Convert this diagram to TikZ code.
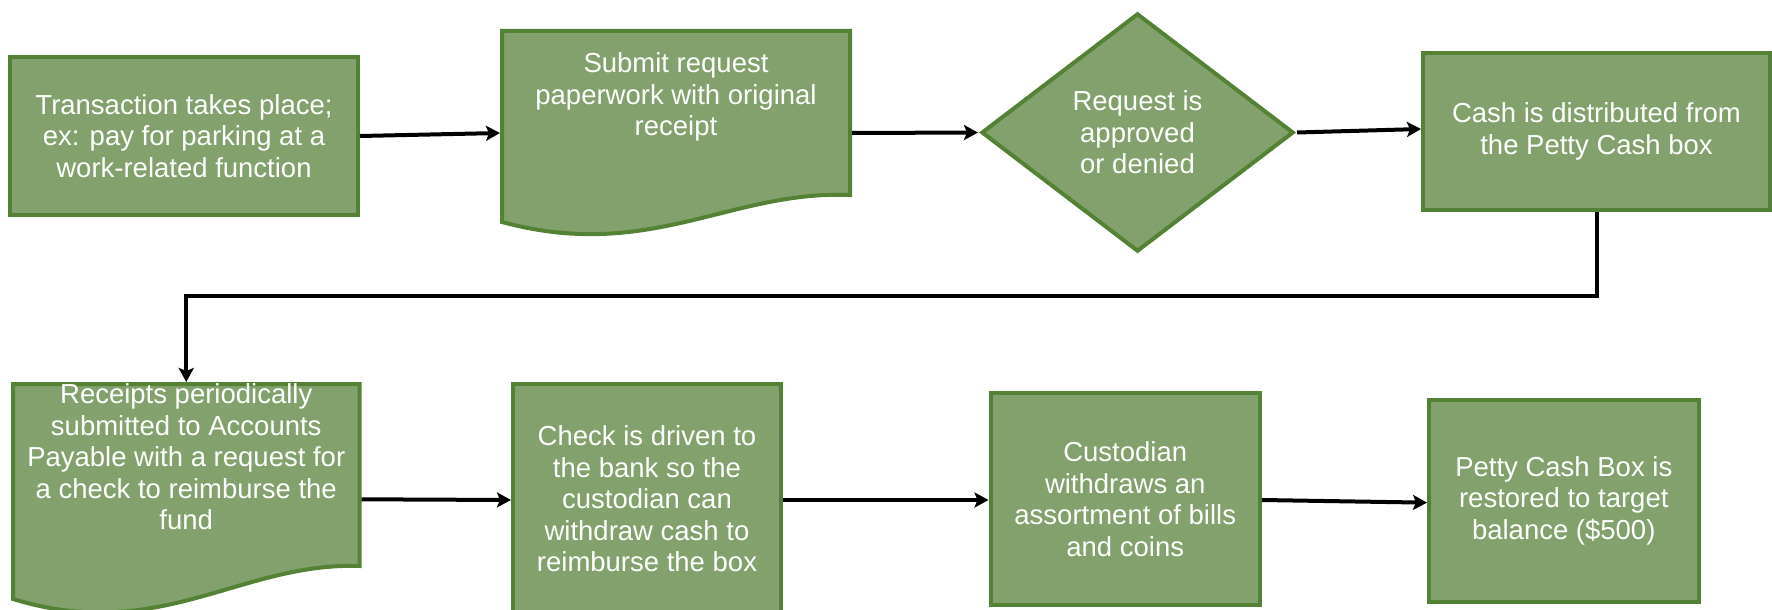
\documentclass[tikz,border=0pt]{standalone}
\usepackage{fontspec}
\setmainfont{Liberation Sans}
\usetikzlibrary{shapes.geometric,arrows.meta}
\definecolor{gfill}{HTML}{82A16C}
\definecolor{gline}{HTML}{548235}
\tikzset{
  txt/.style={text=white, align=center, font=\fontsize{27.5}{31.5}\selectfont},
  shapebase/.style={fill=gfill, draw=gline, line width=4pt, line join=miter},
  box/.style={shapebase, rectangle, inner sep=0pt, outer sep=2pt, txt},
  docframe/.style={rectangle, inner sep=0pt, outer sep=2pt},
  lbl/.style={txt, inner sep=0pt},
  decision/.style={shapebase, diamond, inner sep=0pt, outer sep=3pt, txt},
  arr/.style={draw=black, line width=4pt, -{Stealth[length=14pt,width=15pt,inset=3pt]}}
}
\begin{document}
\begin{tikzpicture}[x=1pt, y=-1pt]
\useasboundingbox (0,0) rectangle (1772,610);

% Row 1
\node[box, minimum width=348pt, minimum height=158pt] (b1) at (184,136)
  {Transaction takes place;\\ex: pay for parking at a\\work-related function};

\draw[shapebase] (502,31) -- (850,31) -- (850,195)
  .. controls (730,190) and (650,262) .. (502,222) -- cycle;
\node[docframe, minimum width=348pt, minimum height=191pt] (d2) at (676,126.5) {};
\node[lbl] (t2) at (676,97) {Submit request\\paperwork with original\\receipt};

\node[decision, minimum width=313pt, minimum height=239pt] (dia) at (1137.5,132.5)
  {Request is\\approved\\or denied};

\node[box, minimum width=347pt, minimum height=156.7pt] (b4) at (1596.5,131.3)
  {Cash is distributed from\\the Petty Cash box};

% Row 2
\draw[shapebase] (13,384) -- (359.5,384) -- (359.5,566)
  .. controls (240,562) and (160,644) .. (13,599) -- cycle;
\node[docframe, minimum width=346.5pt, minimum height=215pt] (d5) at (186.25,491.5) {};
\node[lbl] (t5) at (186.25,457) {Receipts periodically\\submitted to Accounts\\Payable with a request for\\a check to reimburse the\\fund};

\node[box, minimum width=268pt, minimum height=230pt] (b6) at (647,499)
  {Check is driven to\\the bank so the\\custodian can\\withdraw cash to\\reimburse the box};

\node[box, minimum width=269.5pt, minimum height=212pt] (b7) at (1125.25,499)
  {Custodian\\withdraws an\\assortment of bills\\and coins};

\node[box, minimum width=269.5pt, minimum height=202.3pt] (b8) at (1563.75,500.85)
  {Petty Cash Box is\\restored to target\\balance (\$500)};

% Connectors
\coordinate (turn) at (0,296);
\draw[arr] (b1.east) -- ([yshift=-6.5pt]d2.west);
\draw[arr] ([yshift=-6.5pt]d2.east) -- (dia.west);
\draw[arr] (dia.east) -- ([yshift=2.3pt]b4.west);
\draw[arr] (b4.south) |- (d5.north |- turn) -- (d5.north);
\draw[arr] ([yshift=-7.8pt]d5.east) -- ([yshift=-1pt]b6.west);
\draw[arr] ([yshift=-1pt]b6.east) -- ([yshift=-1pt]b7.west);
\draw[arr] ([yshift=-1pt]b7.east) -- ([yshift=-1.8pt]b8.west);
\end{tikzpicture}
\end{document}
